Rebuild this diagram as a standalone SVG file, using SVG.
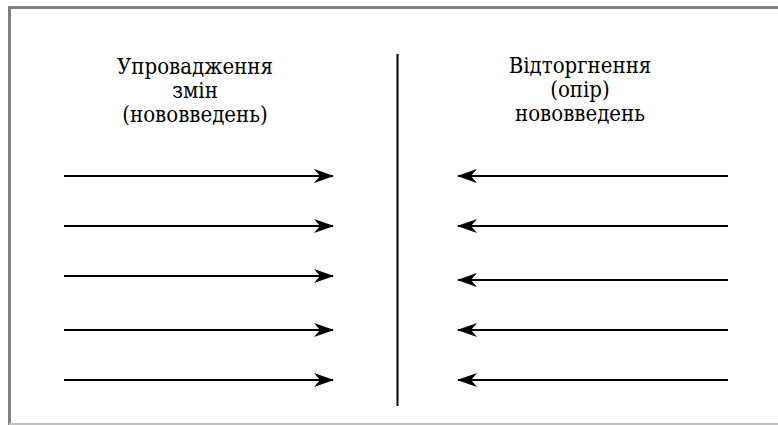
<svg xmlns="http://www.w3.org/2000/svg" width="778" height="425" viewBox="0 0 778 425">
  <style>
    .lbl { font-family: "DejaVu Serif Condensed", "DejaVu Serif", serif; font-stretch: condensed; font-size: 22px; fill: #000; text-anchor: middle; }
    .arr { stroke: #000; stroke-width: 2; fill: none; }
  </style>
  <defs>
    <marker id="head" viewBox="0 0 20 14" refX="19" refY="7" markerWidth="20" markerHeight="14" markerUnits="userSpaceOnUse" orient="auto">
      <path d="M0,0 L20,7 L0,14 L6,7 Z" fill="#000"/>
    </marker>
  </defs>

  <rect width="778" height="425" fill="#fff"/>
  <!-- page frame -->
  <path d="M9.5,425 V7.5 H778" fill="none" stroke="#808080" stroke-width="3"/>
  <line x1="9" y1="424" x2="778" y2="424" stroke="#c0c0c0" stroke-width="2"/>

  <!-- divider -->
  <line x1="397.5" y1="54" x2="397.5" y2="406" stroke="#000" stroke-width="2"/>

  <g id="adoption">
    <text class="lbl" x="195" y="74">Упровадження</text>
    <text class="lbl" x="195" y="98">змін</text>
    <text class="lbl" x="195" y="122">(нововведень)</text>
  </g>
  <g id="rejection">
    <text class="lbl" x="580" y="73">Відторгнення</text>
    <text class="lbl" x="580" y="97">(опір)</text>
    <text class="lbl" x="580" y="121">нововведень</text>
  </g>

  <g id="connectors" class="arr">
    <line x1="64" y1="176" x2="333" y2="176" marker-end="url(#head)"/>
    <line x1="64" y1="226" x2="333" y2="226" marker-end="url(#head)"/>
    <line x1="64" y1="276" x2="333" y2="276" marker-end="url(#head)"/>
    <line x1="64" y1="330" x2="333" y2="330" marker-end="url(#head)"/>
    <line x1="64" y1="380" x2="333" y2="380" marker-end="url(#head)"/>
    <line x1="728" y1="176" x2="458" y2="176" marker-end="url(#head)"/>
    <line x1="728" y1="226" x2="458" y2="226" marker-end="url(#head)"/>
    <line x1="728" y1="280" x2="458" y2="280" marker-end="url(#head)"/>
    <line x1="728" y1="330" x2="458" y2="330" marker-end="url(#head)"/>
    <line x1="728" y1="380" x2="458" y2="380" marker-end="url(#head)"/>
  </g>
</svg>
